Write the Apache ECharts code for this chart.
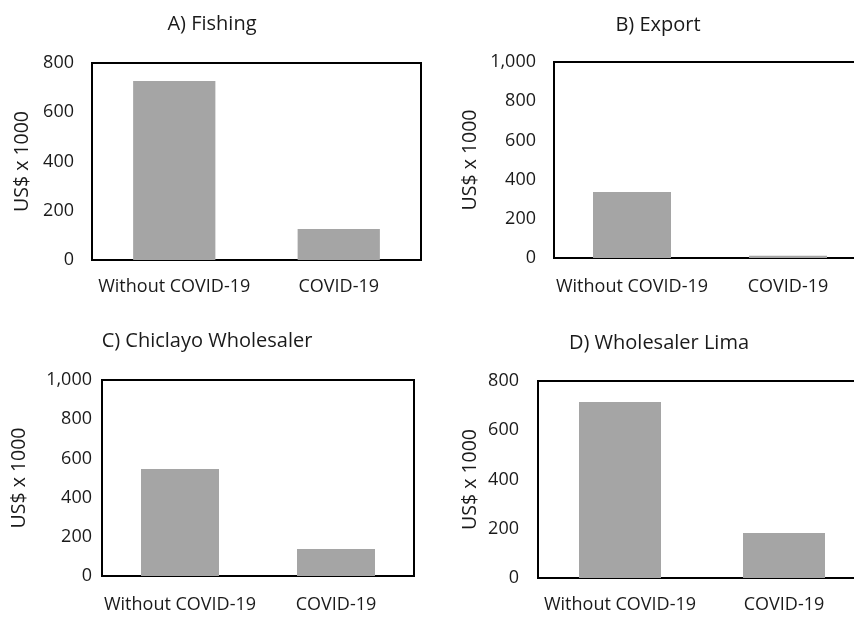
<!DOCTYPE html>
<html>
<head>
<meta charset="utf-8">
<script src="https://cdn.jsdelivr.net/npm/echarts@6/dist/echarts.min.js"></script>
<style>html,body{margin:0;padding:0;background:#fff;overflow:hidden;}#c{width:872px;height:617px;}</style>
</head>
<body>
<div id="c"></div>
<script>
var categories = ['Without COVID-19', 'COVID-19'];
var fishing = [727, 126];
var exportVals = [337, 12];
var chiclayo = [546, 138];
var lima = [715, 183];
var titles = ['A) Fishing', 'B) Export', 'C) Chiclayo Wholesaler', 'D) Wholesaler Lima'];
var yMax = [800, 1000, 1000, 800];
var yName = 'US$ x 1000';

var FONT = 'Open Sans';
var grids = [
  {left: 92, top: 63, width: 329, height: 197},
  {left: 554, top: 62, width: 312, height: 196},
  {left: 102, top: 380, width: 312, height: 196},
  {left: 538, top: 381, width: 328, height: 197}
];
var titlePos = [[207, 9], [653, 10], [202, 326], [654, 328]];
var nameGaps = [60, 74, 73, 58];
var labelMargins = [18, 20, 20, 18];
var tickMargins = [18, 18, 10, 19];
var allData = [fishing, exportVals, chiclayo, lima];

var option = {
  backgroundColor: '#fff',
  animation: false,
  textStyle: {fontFamily: FONT},
  title: titles.map(function (t, i) {
    return {text: t, left: titlePos[i][0], top: titlePos[i][1], textAlign: 'center',
      textStyle: {fontFamily: FONT, fontSize: 20, fontWeight: 'normal', color: '#1a1a1a'}};
  }),
  grid: grids.map(function (g) {
    return Object.assign({show: true, borderColor: '#000', borderWidth: 2, backgroundColor: 'transparent', outerBoundsMode: 'none'}, g);
  }),
  xAxis: grids.map(function (g, i) {
    return {type: 'category', gridIndex: i, data: categories,
      axisLine: {lineStyle: {color: '#000', width: 2}}, axisTick: {show: false},
      axisLabel: {color: '#1a1a1a', fontSize: 18, fontFamily: FONT, margin: labelMargins[i], interval: 0}};
  }),
  yAxis: grids.map(function (g, i) {
    return {type: 'value', gridIndex: i, min: 0, max: yMax[i], interval: 200,
      name: yName, nameLocation: 'middle', nameRotate: 90, nameGap: nameGaps[i],
      nameTextStyle: {color: '#1a1a1a', fontSize: 19.5, fontFamily: FONT},
      axisLine: {show: true, lineStyle: {color: '#000', width: 2}}, axisTick: {show: false},
      splitLine: {show: false},
      axisLabel: {color: '#1a1a1a', fontSize: 18, fontFamily: FONT, margin: tickMargins[i],
        formatter: function (v) { return v.toLocaleString('en-US'); }}};
  }),
  series: allData.map(function (d, i) {
    return {type: 'bar', xAxisIndex: i, yAxisIndex: i, data: d, barWidth: '50%',
      itemStyle: {color: '#a5a5a5'}};
  })
};
echarts.init(document.getElementById('c')).setOption(option);
</script>
</body>
</html>
